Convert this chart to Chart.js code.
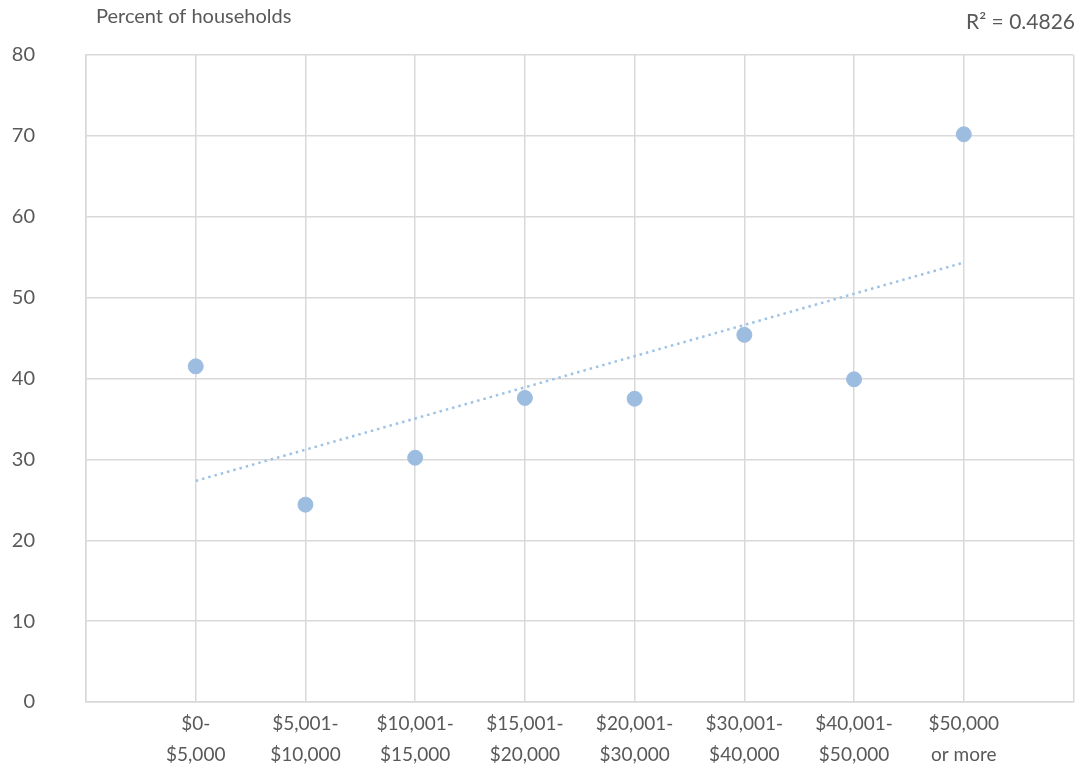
<!DOCTYPE html>
<html>
<head>
<meta charset="utf-8">
<title>Percent of households by income</title>
<script src="https://cdn.jsdelivr.net/npm/chart.js@4.4.1/dist/chart.umd.min.js"></script>
<style>
    html, body { margin: 0; padding: 0; background: #ffffff; }
    #wrap { width: 1082px; height: 774px; position: relative; }
</style>
</head>
<body>
<div id="wrap"><canvas id="chart" width="1082" height="774"></canvas></div>
<script>
// Income brackets (two-line labels) and share of households
const incomeLabels = [
    ['$0-', '$5,000'],
    ['$5,001-', '$10,000'],
    ['$10,001-', '$15,000'],
    ['$15,001-', '$20,000'],
    ['$20,001-', '$30,000'],
    ['$30,001-', '$40,000'],
    ['$40,001-', '$50,000'],
    ['$50,000', 'or more']
];
const householdPct = [41.5, 24.4, 30.2, 37.6, 37.5, 45.4, 39.9, 70.2];
const yTicks = [0, 10, 20, 30, 40, 50, 60, 70, 80];
const yTitle = 'Percent of households';
const rSquaredText = 'R\u00b2 = 0.4826';

const FONT = 'Lato, "Open Sans", sans-serif';
const TEXT_COLOR = '#595959';
const GRID_COLOR = '#d9d9d9';
const DOT_COLOR = '#9dbde0';

// points placed at category positions 1..8
const points = householdPct.map((v, i) => ({ x: i + 1, y: v }));

// least squares linear trendline, like the spreadsheet one
function linearTrend(pts) {
    const n = pts.length;
    const mx = pts.reduce((s, p) => s + p.x, 0) / n;
    const my = pts.reduce((s, p) => s + p.y, 0) / n;
    let sxy = 0, sxx = 0;
    pts.forEach(p => {
        sxy += (p.x - mx) * (p.y - my);
        sxx += (p.x - mx) * (p.x - mx);
    });
    const slope = sxy / sxx;
    const icpt = my - slope * mx;
    const first = pts[0].x, last = pts[n - 1].x;
    return [
        { x: first, y: icpt + slope * first },
        { x: last, y: icpt + slope * last }
    ];
}
const trend = linearTrend(points);

// Title text at top-left and R squared at top-right
const headerText = {
    id: 'headerText',
    afterDraw(chart) {
        const ctx = chart.ctx;
        ctx.save();
        ctx.fillStyle = TEXT_COLOR;
        ctx.textBaseline = 'middle';
        ctx.font = '20px ' + FONT;
        ctx.textAlign = 'left';
        ctx.fillText(yTitle, 96, 17);
        ctx.font = '21px ' + FONT;
        ctx.textAlign = 'right';
        ctx.fillText(rSquaredText, 1075, 22);
        ctx.restore();
    }
};

new Chart(document.getElementById('chart'), {
    type: 'scatter',
    data: {
        datasets: [
            {
                label: 'Households',
                data: points,
                backgroundColor: DOT_COLOR,
                borderColor: DOT_COLOR,
                pointRadius: 7.5,
                pointHoverRadius: 7.5,
                order: 1
            },
            {
                label: 'Trend',
                data: trend,
                showLine: true,
                borderColor: '#9dc3e6',
                borderWidth: 2.5,
                borderDash: [2.5, 4],
                borderCapStyle: 'butt',
                pointRadius: 0,
                fill: false,
                order: 2
            }
        ]
    },
    options: {
        responsive: false,
        animation: false,
        layout: {
            padding: { top: 55, right: 7, left: 0, bottom: 0 }
        },
        plugins: {
            legend: { display: false },
            tooltip: { enabled: false }
        },
        scales: {
            x: {
                type: 'linear',
                min: 0,
                max: incomeLabels.length + 1,
                afterBuildTicks: axis => {
                    axis.ticks = [];
                    for (let i = 0; i <= incomeLabels.length + 1; i++) axis.ticks.push({ value: i });
                },
                afterFit: axis => { axis.height = 72; },
                grid: { color: GRID_COLOR, lineWidth: 1.5, drawTicks: false },
                border: { color: GRID_COLOR, width: 1.5 },
                ticks: {
                    autoSkip: false,
                    maxRotation: 0,
                    padding: 6,
                    color: TEXT_COLOR,
                    font: { family: FONT, size: 19, lineHeight: 1.65 },
                    callback: v => incomeLabels[v - 1] || ''
                }
            },
            y: {
                min: 0,
                max: 80,
                afterBuildTicks: axis => {
                    axis.ticks = yTicks.map(v => ({ value: v }));
                },
                afterFit: axis => {
                    axis.width = 86;
                    // the big label gap should not push the plot down
                    axis.paddingTop = 0;
                    axis.paddingBottom = 0;
                },
                grid: { color: GRID_COLOR, lineWidth: 1.5, drawTicks: false },
                border: { color: GRID_COLOR, width: 1.5 },
                ticks: {
                    padding: 51,
                    color: TEXT_COLOR,
                    font: { family: FONT, size: 20 }
                }
            }
        }
    },
    plugins: [headerText]
});
</script>
</body>
</html>
